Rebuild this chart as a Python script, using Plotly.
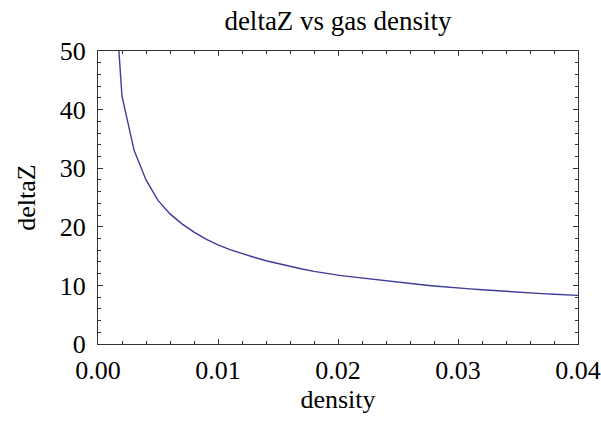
import plotly.graph_objects as go

density = [0.001, 0.002, 0.003, 0.004, 0.005, 0.006, 0.007, 0.008, 0.009, 0.010,
           0.011, 0.012, 0.013, 0.014, 0.015, 0.016, 0.017, 0.018, 0.019, 0.020,
           0.021, 0.022, 0.023, 0.024, 0.025, 0.026, 0.027, 0.028, 0.029, 0.030,
           0.031, 0.032, 0.033, 0.034, 0.035, 0.036, 0.037, 0.038, 0.039, 0.040]
deltaZ = [72.0, 42.3, 33.1, 28.0, 24.5, 22.2, 20.5, 19.1, 17.9, 16.9,
          16.1, 15.4, 14.8, 14.2, 13.7, 13.2, 12.8, 12.4, 12.05, 11.75,
          11.5, 11.25, 11.0, 10.75, 10.5, 10.3, 10.1, 9.9, 9.7, 9.55,
          9.4, 9.25, 9.1, 8.95, 8.8, 8.7, 8.6, 8.5, 8.4, 8.3]

x_ticks = [0.00, 0.01, 0.02, 0.03, 0.04]
x_ticklabels = ["0.00", "0.01", "0.02", "0.03", "0.04"]
y_ticks = [0, 10, 20, 30, 40, 50]
y_ticklabels = ["0", "10", "20", "30", "40", "50"]

FONT = "Liberation Serif"
AX = "#333333"

fig = go.Figure()
fig.add_trace(go.Scatter(x=density, y=deltaZ, mode="lines",
                         line=dict(color="#3f3c99", width=1.4),
                         showlegend=False, hoverinfo="skip"))
# empty trace to register top/right axes for mirrored minor ticks
fig.add_trace(go.Scatter(x=[], y=[], xaxis="x2", yaxis="y2", showlegend=False))

common = dict(showgrid=False, zeroline=False, ticks="inside", tickcolor=AX,
              linecolor=AX, linewidth=1, showline=True, automargin=False)

fig.update_layout(
    width=601, height=441,
    margin=dict(l=98, r=23, t=51, b=97),
    paper_bgcolor="white", plot_bgcolor="white",
    font=dict(family=FONT, color="black", size=26),
    title=dict(text="deltaZ vs gas density", x=(98 + 578) / 2 / 601, xanchor="center",
               y=1 - 21 / 441, yanchor="middle", yref="container", automargin=False,
               font=dict(family=FONT, size=27, color="black")),
    xaxis=dict(range=[0, 0.04], tickvals=x_ticks, ticktext=x_ticklabels, ticklen=5,
               tickfont=dict(family=FONT, size=26), ticklabelstandoff=3,
               minor=dict(dtick=0.002, ticklen=3, ticks="inside", tickcolor=AX),
               title=dict(text="density", standoff=5, font=dict(family=FONT, size=26)),
               **common),
    yaxis=dict(range=[0, 50], tickvals=y_ticks, ticktext=y_ticklabels, ticklen=5,
               tickfont=dict(family=FONT, size=26), ticklabelstandoff=6,
               minor=dict(dtick=2, ticklen=3, ticks="inside", tickcolor=AX),
               title=dict(text="deltaZ", standoff=16, font=dict(family=FONT, size=26)),
               **{**common, "automargin": True}),
    xaxis2=dict(range=[0, 0.04], overlaying="x", side="top", anchor="y",
                tickvals=x_ticks, showticklabels=False, ticklen=5,
                minor=dict(dtick=0.002, ticklen=3, ticks="inside", tickcolor=AX),
                **common),
    yaxis2=dict(range=[0, 50], overlaying="y", side="right", anchor="x",
                tickvals=y_ticks, showticklabels=False, ticklen=5,
                minor=dict(dtick=2, ticklen=3, ticks="inside", tickcolor=AX),
                **common),
)

fig.write_html("out.html")
